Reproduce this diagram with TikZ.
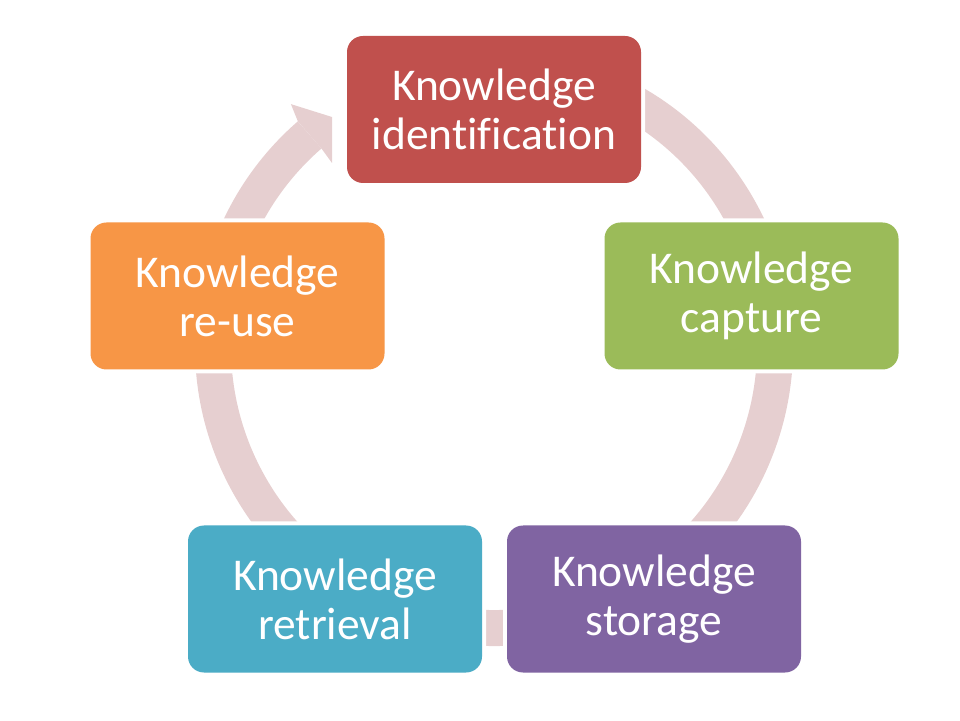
\documentclass[tikz,border=0pt]{standalone}
\usepackage{fontspec}
\setmainfont{Carlito}[Ligatures=NoCommon]
\usetikzlibrary{calc}
\definecolor{cred}{HTML}{C0504D}
\definecolor{cgreen}{HTML}{9BBB59}
\definecolor{cpurple}{HTML}{8064A2}
\definecolor{cteal}{HTML}{4BACC6}
\definecolor{corange}{HTML}{F79646}
\definecolor{cring}{HTML}{E6CFD0}
\tikzset{
  box/.style={rounded corners=16pt, minimum width=294pt, minimum height=147pt,
    inner sep=0pt, align=center, text=white,
    font=\fontsize{45.5}{49}\selectfont,
    preaction={draw=white, line width=8pt}},
  ring/.style={draw=cring, line width=36pt},
  ringhead/.style={fill=cring}
}
\begin{document}
\begin{tikzpicture}[x=1pt,y=1pt]
\useasboundingbox (0,0) rectangle (960,720);
\coordinate (c) at (494,373);
% ring
\draw[ring] ($(c)+(118:281)$) arc[start angle=118, end angle=-229, radius=281];
% arrow head
\fill[ringhead] ($(c)+(131:299)$) -- ($(c)+(129.9:316.6)$) -- (332,603) -- (332,557)
   -- ($(c)+(131:263)$) -- cycle;
% boxes
\node[box, fill=cred]    (ident) at (494,610.5) {Knowledge\\identification};
\node[box, fill=cgreen]  (capt)  at (751.5,424) {Knowledge\\capture};
\node[box, fill=cpurple] (stor)  at (654,121)   {Knowledge\\storage};
\node[box, fill=cteal]   (retr)  at (335,121)   {Knowledge\\retrieval};
\node[box, fill=corange] (reuse) at (237.5,424) {Knowledge\\re-use};
\end{tikzpicture}
\end{document}
